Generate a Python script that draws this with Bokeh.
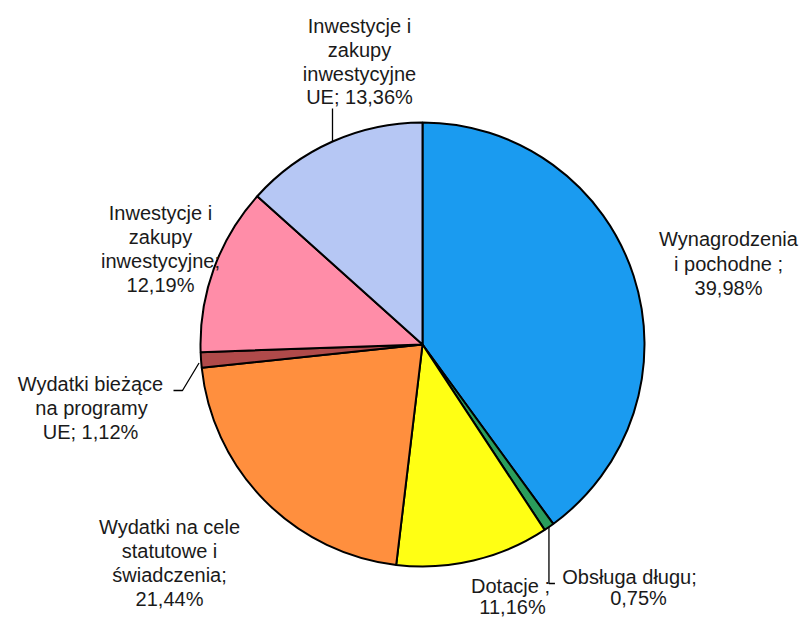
import math
from bokeh.plotting import figure
from bokeh.models import Range1d, ColumnDataSource
from bokeh.core.properties import value
from bokeh.embed import file_html
from bokeh.resources import INLINE

# ---- data ----
categories = [
    "Wynagrodzenia i pochodne",
    "Obsługa długu",
    "Dotacje",
    "Wydatki na cele statutowe i świadczenia",
    "Wydatki bieżące na programy UE",
    "Inwestycje i zakupy inwestycyjne",
    "Inwestycje i zakupy inwestycyjne UE",
]
shares = [39.98, 0.75, 11.16, 21.44, 1.12, 12.19, 13.36]
colors = ["#1A9BF0", "#2A9D5C", "#FFFF14", "#FF8F3E", "#B04A4A", "#FF8DA8", "#B6C7F4"]
label_lines = [
    ["Wynagrodzenia", "i pochodne ;", "39,98%"],
    ["Obsługa długu;", "0,75%"],
    ["Dotacje ;", "11,16%"],
    ["Wydatki na cele", "statutowe i", "świadczenia;", "21,44%"],
    ["Wydatki bieżące", "na programy", "UE; 1,12%"],
    ["Inwestycje i", "zakupy", "inwestycyjne;", "12,19%"],
    ["Inwestycje i", "zakupy", "inwestycyjne", "UE; 13,36%"],
]

# ---- layout (image pixel coordinates, y downward) ----
W, H = 800, 617
CX, CY, R = 422, 344, 222
label_x = [[728, 728, 728], [629, 638], [510, 512], [169, 169, 169, 169],
           [90, 91, 90], [160, 160, 160, 160], [359, 359, 359, 359]]
label_y = [[238, 263, 287], [576, 597], [585, 606], [526, 550, 574, 598],
           [383, 407, 431], [212, 236, 260, 284], [25, 49, 73, 96]]

TOP = 625

def fy(y):
    return TOP - y

p = figure(width=W, height=H, output_backend="svg", toolbar_location=None,
           x_range=Range1d(0, W), y_range=Range1d(TOP - H, TOP),
           min_border=0)
p.axis.visible = False
p.grid.visible = False
p.outline_line_color = None
p.background_fill_color = "white"
p.border_fill_color = "white"

total = sum(shares)
starts, ends, cum = [], [], 0.0
for s in shares:
    starts.append(math.pi / 2 - 2 * math.pi * cum / total)
    cum += s
    ends.append(math.pi / 2 - 2 * math.pi * cum / total)

src = ColumnDataSource(dict(x=[CX] * len(shares), y=[fy(CY)] * len(shares),
                            start=starts, end=ends, color=colors))
p.wedge(x="x", y="y", radius=R, start_angle="start", end_angle="end",
        direction="clock", fill_color="color", line_color="black",
        line_width=2, source=src)

# leader lines
def edge_point(i):
    mid = (starts[i] + ends[i]) / 2
    return CX + R * math.cos(mid), CY - R * math.sin(mid)

# Obsługa długu
ex, ey = edge_point(1)
p.line([ex, ex, ex + 6], [fy(ey), fy(583), fy(583)], line_color="black", line_width=1.3)
# Wydatki bieżące
ex, ey = edge_point(4)
p.line([ex - 2, 182, 173], [fy(ey + 3), fy(390), fy(390)], line_color="black", line_width=1.3)
# Inwestycje UE
ex2 = 332
ey2 = CY - math.sqrt(R * R - (ex2 - CX) ** 2)
p.line([ex2, ex2], [fy(ey2), fy(108)], line_color="black", line_width=1.3)

xs, ys, ts = [], [], []
for lx, ly, lt in zip(label_x, label_y, label_lines):
    for a, b, t in zip(lx, ly, lt):
        xs.append(a)
        ys.append(fy(b))
        ts.append(t)
p.text(x=xs, y=ys, text=ts, text_align="center", text_baseline="middle",
       text_font=value("Liberation Sans"), text_font_size="20px",
       text_color="#1a1a1a")

open("out.html", "w").write(file_html(p, INLINE))
